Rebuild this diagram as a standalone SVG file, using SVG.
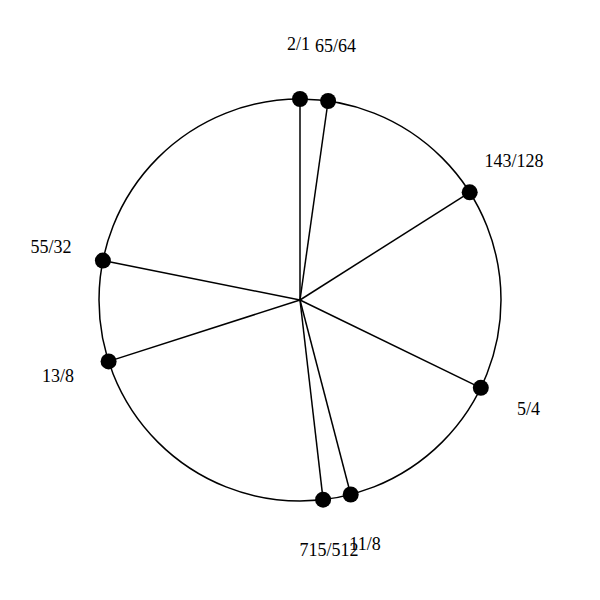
<svg xmlns="http://www.w3.org/2000/svg" width="600" height="600" viewBox="0 0 600 600">
<style>
.ring{fill:none;stroke:#000;stroke-width:1.5}
.spoke{stroke:#000;stroke-width:1.5}
.dot{fill:#000}
.lbl{font-family:"Liberation Serif","Times New Roman",serif;font-size:18px;fill:#000;text-anchor:middle}
</style>
<rect width="600" height="600" fill="#fff"/>
<circle class="ring" cx="300" cy="300" r="201"/>
<g id="connectors">
<line class="spoke" x1="300" y1="300" x2="300" y2="99"/>
<line class="spoke" x1="300" y1="300" x2="328.1" y2="101"/>
<line class="spoke" x1="300" y1="300" x2="469.7" y2="192.3"/>
<line class="spoke" x1="300" y1="300" x2="480.8" y2="387.8"/>
<line class="spoke" x1="300" y1="300" x2="350.7" y2="494.5"/>
<line class="spoke" x1="300" y1="300" x2="323.1" y2="499.7"/>
<line class="spoke" x1="300" y1="300" x2="108.6" y2="361.4"/>
<line class="spoke" x1="300" y1="300" x2="102.9" y2="260.6"/>
</g>
<g id="n-2-1"><circle class="dot" cx="300" cy="99" r="8"/><text class="lbl" x="298.5" y="50">2/1</text></g>
<g id="n-65-64"><circle class="dot" cx="328.1" cy="101" r="8"/><text class="lbl" x="335.5" y="52">65/64</text></g>
<g id="n-143-128"><circle class="dot" cx="469.7" cy="192.3" r="8"/><text class="lbl" x="514" y="167">143/128</text></g>
<g id="n-5-4"><circle class="dot" cx="480.8" cy="387.8" r="8"/><text class="lbl" x="528.5" y="415">5/4</text></g>
<g id="n-11-8"><circle class="dot" cx="350.7" cy="494.5" r="8"/><text class="lbl" x="365" y="550">11/8</text></g>
<g id="n-715-512"><circle class="dot" cx="323.1" cy="499.7" r="8"/><text class="lbl" x="329" y="556">715/512</text></g>
<g id="n-13-8"><circle class="dot" cx="108.6" cy="361.4" r="8"/><text class="lbl" x="58" y="382">13/8</text></g>
<g id="n-55-32"><circle class="dot" cx="102.9" cy="260.6" r="8"/><text class="lbl" x="51" y="253">55/32</text></g>
</svg>
